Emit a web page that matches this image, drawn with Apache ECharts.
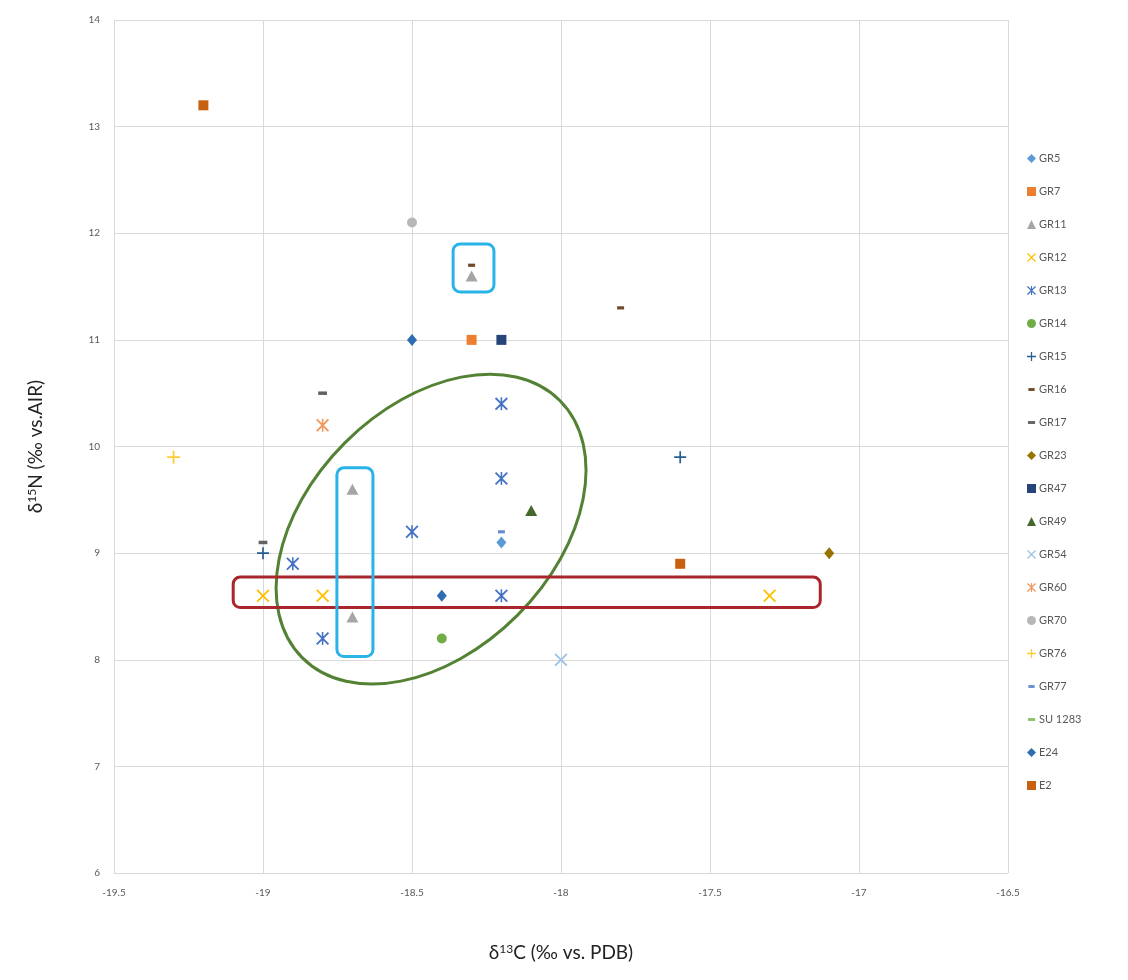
<!DOCTYPE html>
<html>
<head>
<meta charset="utf-8">
<script src="https://cdn.jsdelivr.net/npm/echarts@6/dist/echarts.min.js"></script>
<style>
html,body{margin:0;padding:0;background:#fff;}
#c{width:1128px;height:980px;}
</style>
</head>
<body>
<div id="c"></div>
<script>
// ---- data (δ13C, δ15N) ----
const seriesNames = ['GR5','GR7','GR11','GR12','GR13','GR14','GR15','GR16','GR17','GR23','GR47','GR49','GR54','GR60','GR70','GR76','GR77','SU 1283','E24','E2'];
const GR5  = [[-18.2, 9.1]];
const GR7  = [[-18.3, 11.0]];
const GR11 = [[-18.3, 11.6], [-18.7, 9.6], [-18.7, 8.4]];
const GR12 = [[-19.0, 8.6], [-18.8, 8.6], [-17.3, 8.6]];
const GR13 = [[-18.2, 10.4], [-18.2, 9.7], [-18.5, 9.2], [-18.9, 8.9], [-18.2, 8.6], [-18.8, 8.2]];
const GR14 = [[-18.4, 8.2]];
const GR15 = [[-19.0, 9.0], [-17.6, 9.9]];
const GR16 = [[-17.8, 11.3], [-18.3, 11.7]];
const GR17 = [[-18.8, 10.5], [-19.0, 9.1]];
const GR23 = [[-17.1, 9.0]];
const GR47 = [[-18.2, 11.0]];
const GR49 = [[-18.1, 9.4]];
const GR54 = [[-18.0, 8.0]];
const GR60 = [[-18.8, 10.2]];
const GR70 = [[-18.5, 12.1]];
const GR76 = [[-19.3, 9.9]];
const GR77 = [[-18.2, 9.2]];
const SU1283 = [];
const E24  = [[-18.5, 11.0], [-18.4, 8.6]];
const E2   = [[-19.2, 13.2], [-17.6, 8.9]];
const seriesData = [GR5,GR7,GR11,GR12,GR13,GR14,GR15,GR16,GR17,GR23,GR47,GR49,GR54,GR60,GR70,GR76,GR77,SU1283,E24,E2];

const xAxisRange = [-19.5, -16.5];
const yAxisRange = [6, 14];

// annotation regions (data units)
const redBox  = [-19.1, 8.775, -17.13, 8.49];
const blueBoxA = [-18.752, 9.80, -18.631, 8.03];
const blueBoxB = [-18.362, 11.90, -18.225, 11.45];
const ellipseCenter = [-18.436, 9.225];

// ---- styles ----
const P_X = 'path://M0,1L1,0L5,4L9,0L10,1L6,5L10,9L9,10L5,6L1,10L0,9L4,5Z';
const P_AST = 'path://M0,1L1,0L5,4L9,0L10,1L6,5L10,9L9,10L5,6L1,10L0,9L4,5Z M4.4,0H5.6V10H4.4Z';
const P_PLUS = 'path://M4.3,0H5.7V4.3H10V5.7H5.7V10H4.3V5.7H0V4.3H4.3Z';
const P_DASH = 'path://M0,0M10,10M1,3.4H9V6.6H1Z';
const P_DASH_S = 'path://M0,0M10,10M1.5,3.4H8.5V6.6H1.5Z';
const styleMap = {
  'GR5':   {c:'#5B9BD5', s:'diamond', z:[10,12]},
  'GR7':   {c:'#ED7D31', s:'rect', z:10},
  'GR11':  {c:'#A5A5A5', s:'triangle', z:[12,11]},
  'GR12':  {c:'#FFC000', s:P_X, z:13},
  'GR13':  {c:'#4472C4', s:P_AST, z:13},
  'GR14':  {c:'#70AD47', s:'circle', z:10},
  'GR15':  {c:'#255E91', s:P_PLUS, z:12},
  'GR16':  {c:'#6E4A2A', s:P_DASH_S, z:10},
  'GR17':  {c:'#636363', s:P_DASH, z:11},
  'GR23':  {c:'#997300', s:'diamond', z:[10,12]},
  'GR47':  {c:'#264478', s:'rect', z:10},
  'GR49':  {c:'#43682B', s:'triangle', z:[12,11]},
  'GR54':  {c:'#9DC3E6', s:P_X, z:13},
  'GR60':  {c:'#F1975A', s:P_AST, z:13},
  'GR70':  {c:'#B7B7B7', s:'circle', z:10},
  'GR76':  {c:'#FFCD33', s:P_PLUS, z:13},
  'GR77':  {c:'#698ED0', s:P_DASH_S, z:10},
  'SU 1283': {c:'#8CC168', s:P_DASH, z:10},
  'E24':   {c:'#2E6DB0', s:'diamond', z:[10,12]},
  'E2':    {c:'#C9600F', s:'rect', z:10}
};

const chart = echarts.init(document.getElementById('c'), null, {renderer:'canvas'});
const FONT = 'Lato, "Liberation Sans", sans-serif';

const series = seriesNames.map((n, i) => ({
  name: n,
  type: 'scatter',
  data: seriesData[i],
  symbol: styleMap[n].s,
  symbolSize: styleMap[n].z,
  itemStyle: {color: styleMap[n].c, opacity: 1},
  emphasis: {disabled: true},
  z: 3
}));

chart.setOption({
  animation: false,
  backgroundColor: '#fff',
  grid: {left: 114, right: 120, top: 20, bottom: 107, containLabel: false},
  xAxis: {
    type: 'value', min: xAxisRange[0], max: xAxisRange[1], interval: 0.5,
    name: '{a|δ}{s|13}{a|C (‰ vs. PDB)}',
    nameLocation: 'middle', nameGap: 70,
    nameTextStyle: {rich: {
      a: {fontSize: 19, color: '#222', fontFamily: FONT},
      s: {fontSize: 12, color: '#222', fontFamily: FONT, verticalAlign: 'top', padding: [0,0,8,0]}
    }},
    axisLine: {show: false}, axisTick: {show: false},
    axisLabel: {color: '#595959', fontSize: 10, fontFamily: FONT, margin: 15},
    splitLine: {show: true, lineStyle: {color: '#D9D9D9', width: 1}}
  },
  yAxis: {
    type: 'value', min: yAxisRange[0], max: yAxisRange[1], interval: 1,
    name: '{a|δ}{s|15}{a|N (‰ vs.AIR)}',
    nameLocation: 'middle', nameRotate: 90, nameGap: 68,
    nameTextStyle: {rich: {
      a: {fontSize: 19, color: '#222', fontFamily: FONT},
      s: {fontSize: 12, color: '#222', fontFamily: FONT, verticalAlign: 'top', padding: [0,0,8,0]}
    }},
    axisLine: {show: false}, axisTick: {show: false},
    axisLabel: {color: '#595959', fontSize: 10, fontFamily: FONT, margin: 14},
    splitLine: {show: true, lineStyle: {color: '#D9D9D9', width: 1}}
  },
  legend: {
    orient: 'vertical', left: 1022, top: 148,
    itemWidth: 9, itemHeight: 9, itemGap: 22,
    textStyle: {color: '#595959', fontSize: 11, fontFamily: FONT, padding: [0,0,0,-2]},
    data: seriesNames
  },
  series: series
});

function px(p) { return chart.convertToPixel({gridIndex: 0}, p); }
function boxRect(b, color) {
  const a = px([b[0], b[1]]), c = px([b[2], b[3]]);
  return {
    type: 'rect', z: 100, silent: true,
    shape: {x: Math.min(a[0], c[0]), y: Math.min(a[1], c[1]), width: Math.abs(c[0]-a[0]), height: Math.abs(c[1]-a[1]), r: 7},
    style: {fill: 'none', stroke: color, lineWidth: 3}
  };
}
const ec = px(ellipseCenter);
chart.setOption({
  graphic: [
    {type: 'ellipse', z: 100, silent: true, x: ec[0], y: ec[1], rotation: Math.PI/4,
     shape: {cx: 0, cy: 0, rx: 182, ry: 122},
     style: {fill: 'none', stroke: '#548235', lineWidth: 3}},
    boxRect(redBox, '#A8262C'),
    boxRect(blueBoxA, '#29B3E6'),
    boxRect(blueBoxB, '#29B3E6')
  ]
});
</script>
</body>
</html>
